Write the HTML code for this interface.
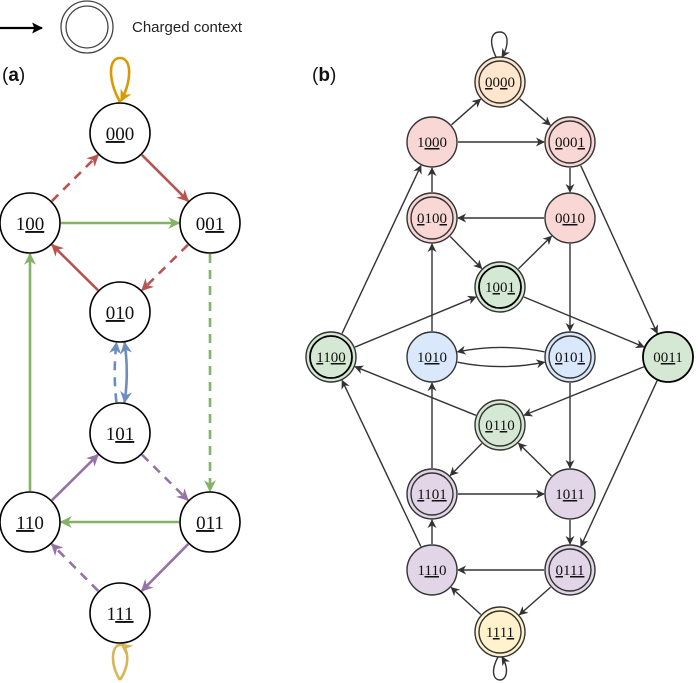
<!DOCTYPE html>
<html><head><meta charset="utf-8">
<style>
html,body{margin:0;padding:0;background:#fff;}
svg{display:block;font-family:"Liberation Serif",serif;}
.s{font-family:"Liberation Sans",sans-serif;}
</style></head>
<body>
<svg id="g" width="700" height="683" viewBox="0 0 700 683" xmlns="http://www.w3.org/2000/svg">
<defs>
<marker id="mk" viewBox="0 0 10 10" refX="9" refY="5" markerWidth="9" markerHeight="9" markerUnits="userSpaceOnUse" orient="auto"><path d="M0,0 L10,5 L0,10 L3,5 z" fill="#333"/></marker>
<marker id="mr" viewBox="0 0 10 10" refX="9" refY="5" markerWidth="12" markerHeight="12" markerUnits="userSpaceOnUse" orient="auto"><path d="M0,0 L10,5 L0,10 L3,5 z" fill="#b85450"/></marker>
<marker id="mg" viewBox="0 0 10 10" refX="9" refY="5" markerWidth="12" markerHeight="12" markerUnits="userSpaceOnUse" orient="auto"><path d="M0,0 L10,5 L0,10 L3,5 z" fill="#82b366"/></marker>
<marker id="mp" viewBox="0 0 10 10" refX="9" refY="5" markerWidth="12" markerHeight="12" markerUnits="userSpaceOnUse" orient="auto"><path d="M0,0 L10,5 L0,10 L3,5 z" fill="#9673a6"/></marker>
<marker id="mb" viewBox="0 0 10 10" refX="9" refY="5" markerWidth="12" markerHeight="12" markerUnits="userSpaceOnUse" orient="auto"><path d="M0,0 L10,5 L0,10 L3,5 z" fill="#6c8ebf"/></marker>
<marker id="mbs" viewBox="0 0 10 10" refX="1" refY="5" markerWidth="12" markerHeight="12" markerUnits="userSpaceOnUse" orient="auto"><path d="M10,0 L0,5 L10,10 L7,5 z" fill="#6c8ebf"/></marker>
<marker id="mo" viewBox="0 0 10 10" refX="9" refY="5" markerWidth="12" markerHeight="12" markerUnits="userSpaceOnUse" orient="auto"><path d="M0,0 L10,5 L0,10 L3,5 z" fill="#d79b00"/></marker>
<marker id="my" viewBox="0 0 10 10" refX="9" refY="5" markerWidth="12" markerHeight="12" markerUnits="userSpaceOnUse" orient="auto"><path d="M0,0 L10,5 L0,10 L3,5 z" fill="#d6b656"/></marker>
<marker id="mblk" viewBox="0 0 10 10" refX="9" refY="5" markerWidth="11" markerHeight="11" markerUnits="userSpaceOnUse" orient="auto"><path d="M0,0 L10,5 L0,10 L2,5 z" fill="#000"/></marker>
</defs>

<!-- legend -->
<line x1="0" y1="28" x2="42" y2="28" stroke="#000" stroke-width="2.2" marker-end="url(#mblk)"/>
<circle cx="87" cy="27" r="26" fill="none" stroke="#444" stroke-width="1.3"/>
<circle cx="87" cy="27" r="21" fill="none" stroke="#444" stroke-width="1.3"/>
<text class="s" x="132" y="32" font-size="15" fill="#222">Charged context</text>
<text class="s" x="2" y="81" font-size="19" fill="#111">(<tspan font-weight="bold">a</tspan>)</text>
<text class="s" x="312" y="81" font-size="19" fill="#111">(<tspan font-weight="bold">b</tspan>)</text>

<g id="edges"></g>

<!-- panel a nodes -->
<g stroke="#000" stroke-width="1.6" fill="#fff">
<circle cx="120" cy="133" r="30"/><circle cx="30" cy="223" r="30"/><circle cx="210" cy="223" r="30"/>
<circle cx="120" cy="312" r="30"/><circle cx="120" cy="433" r="30"/><circle cx="30" cy="522" r="30"/>
<circle cx="210" cy="522" r="30"/><circle cx="120" cy="613" r="30"/>
</g>
<g font-size="19" fill="#111" text-anchor="middle">
<text x="120" y="140"><tspan text-decoration="underline">00</tspan>0</text>
<text x="30" y="230">1<tspan text-decoration="underline">00</tspan></text>
<text x="210" y="230">0<tspan text-decoration="underline">01</tspan></text>
<text x="120" y="319"><tspan text-decoration="underline">01</tspan>0</text>
<text x="120" y="440">1<tspan text-decoration="underline">01</tspan></text>
<text x="30" y="529"><tspan text-decoration="underline">11</tspan>0</text>
<text x="210" y="529"><tspan text-decoration="underline">01</tspan>1</text>
<text x="120" y="620">1<tspan text-decoration="underline">11</tspan></text>
</g>

<!-- panel b nodes -->
<g stroke="#333" stroke-width="1.4">
<circle cx="500" cy="82" r="25" fill="#ffe6cc"/><circle cx="500" cy="82" r="21" fill="none"/>
<circle cx="432" cy="142" r="25" fill="#f8d7d5"/>
<circle cx="570" cy="142" r="25" fill="#f8d7d5"/><circle cx="570" cy="142" r="21" fill="none"/>
<circle cx="432" cy="218" r="25" fill="#f8d7d5"/><circle cx="432" cy="218" r="21" fill="none"/>
<circle cx="570" cy="218" r="25" fill="#f8d7d5"/>
<circle cx="500" cy="287" r="25" fill="#d5e8d4"/><circle cx="500" cy="287" r="21" fill="none" stroke="#000" stroke-width="1.8"/>
<circle cx="331" cy="357" r="25" fill="#d5e8d4"/><circle cx="331" cy="357" r="21" fill="none" stroke="#000" stroke-width="1.8"/>
<circle cx="432" cy="357" r="25" fill="#dae8fc"/>
<circle cx="570" cy="357" r="25" fill="#dae8fc"/><circle cx="570" cy="357" r="21" fill="none"/>
<circle cx="668" cy="357" r="25" fill="#d5e8d4" stroke="#000" stroke-width="1.8"/>
<circle cx="500" cy="425" r="25" fill="#d5e8d4"/><circle cx="500" cy="425" r="21" fill="none"/>
<circle cx="432" cy="494" r="25" fill="#e1d5e7"/><circle cx="432" cy="494" r="21" fill="none"/>
<circle cx="570" cy="494" r="25" fill="#e1d5e7"/>
<circle cx="432" cy="570" r="25" fill="#e1d5e7"/>
<circle cx="570" cy="570" r="25" fill="#e1d5e7"/><circle cx="570" cy="570" r="21" fill="none"/>
<circle cx="500" cy="632" r="25" fill="#fff2cc"/><circle cx="500" cy="632" r="21" fill="none"/>
</g>
<g font-size="15" fill="#111" text-anchor="middle">
<text x="500" y="87"><tspan text-decoration="underline">0</tspan>0<tspan text-decoration="underline">0</tspan>0</text>
<text x="432" y="147">1<tspan text-decoration="underline">00</tspan>0</text>
<text x="570" y="147"><tspan text-decoration="underline">0</tspan>00<tspan text-decoration="underline">1</tspan></text>
<text x="432" y="223"><tspan text-decoration="underline">0</tspan>10<tspan text-decoration="underline">0</tspan></text>
<text x="570" y="223">0<tspan text-decoration="underline">01</tspan>0</text>
<text x="500" y="292">1<tspan text-decoration="underline">0</tspan>0<tspan text-decoration="underline">1</tspan></text>
<text x="331" y="362"><tspan text-decoration="underline">1</tspan>1<tspan text-decoration="underline">00</tspan></text>
<text x="432" y="362">1<tspan text-decoration="underline">01</tspan>0</text>
<text x="570" y="362"><tspan text-decoration="underline">0</tspan>10<tspan text-decoration="underline">1</tspan></text>
<text x="668" y="362">0<tspan text-decoration="underline">01</tspan>1</text>
<text x="500" y="430"><tspan text-decoration="underline">0</tspan>1<tspan text-decoration="underline">1</tspan>0</text>
<text x="432" y="499"><tspan text-decoration="underline">1</tspan>1<tspan text-decoration="underline">01</tspan></text>
<text x="570" y="499">1<tspan text-decoration="underline">01</tspan>1</text>
<text x="432" y="575">1<tspan text-decoration="underline">11</tspan>0</text>
<text x="570" y="575"><tspan text-decoration="underline">0</tspan>1<tspan text-decoration="underline">11</tspan></text>
<text x="500" y="637">1<tspan text-decoration="underline">1</tspan>1<tspan text-decoration="underline">1</tspan></text>
</g>
</svg>
<script>
(function(){
var g=document.getElementById('edges'),NS='http://www.w3.org/2000/svg';
function P(d,st){var p=document.createElementNS(NS,'path');p.setAttribute('d',d);p.setAttribute('fill','none');for(var k in st)p.setAttribute(k,st[k]);g.appendChild(p);}
function E(a,b,r,st,bend){var dx=b[0]-a[0],dy=b[1]-a[1],L=Math.hypot(dx,dy),ux=dx/L,uy=dy/L;
 if(!bend){P('M'+(a[0]+ux*r)+','+(a[1]+uy*r)+' L'+(b[0]-ux*r)+','+(b[1]-uy*r),st);return;}
 var mx=(a[0]+b[0])/2-uy*bend,my=(a[1]+b[1])/2+ux*bend;
 var d1x=mx-a[0],d1y=my-a[1],l1=Math.hypot(d1x,d1y),d2x=b[0]-mx,d2y=b[1]-my,l2=Math.hypot(d2x,d2y);
 var sx=a[0]+d1x/l1*r,sy=a[1]+d1y/l1*r,ex=b[0]-d2x/l2*r,ey=b[1]-d2y/l2*r;
 P('M'+sx+','+sy+' Q'+mx+','+my+' '+ex+','+ey,st);}
// panel a
var A={'000':[120,133],'100':[30,223],'001':[210,223],'010':[120,312],'101':[120,433],'110':[30,522],'011':[210,522],'111':[120,613]};
function sa(c,m,dash){var o={stroke:c,'stroke-width':2.6,'marker-end':'url(#'+m+')'};if(dash)o['stroke-dasharray']='9,7';return o;}
var R='#b85450',G='#82b366',Pu='#9673a6',B='#6c8ebf';
E(A['000'],A['001'],31,sa(R,'mr'));E(A['100'],A['000'],31,sa(R,'mr',1));
E(A['100'],A['001'],31,sa(G,'mg'));E(A['010'],A['100'],31,sa(R,'mr'));
E(A['001'],A['010'],31,sa(R,'mr',1));E(A['001'],A['011'],31,sa(G,'mg',1));
E(A['110'],A['100'],31,sa(G,'mg'));E(A['011'],A['110'],31,sa(G,'mg'));
E(A['110'],A['101'],31,sa(Pu,'mp'));E(A['101'],A['011'],31,sa(Pu,'mp',1));
E(A['011'],A['111'],31,sa(Pu,'mp'));E(A['111'],A['110'],31,sa(Pu,'mp',1));
var o=sa(B,'mb');o['marker-start']='url(#mbs)';E(A['010'],A['101'],31,o,-9);
E(A['101'],A['010'],31,sa(B,'mb',1),-7);
P('M120,102 C108,80 108,58 120,58 C132,58 132,80 121,101',{stroke:'#d79b00','stroke-width':2.6,'marker-end':'url(#mo)'});
P('M120,680 C110,665 111,644 121,645',{stroke:'#d6b656','stroke-width':2.6});
P('M120,680 C130,665 129,650 121,644',{stroke:'#d6b656','stroke-width':2.6,'marker-end':'url(#my)'});
// panel b
var N={'0000':[500,82],'1000':[432,142],'0001':[570,142],'0100':[432,218],'0010':[570,218],'1001':[500,287],'1100':[331,357],'1010':[432,357],'0101':[570,357],'0011':[668,357],'0110':[500,425],'1101':[432,494],'1011':[570,494],'1110':[432,570],'0111':[570,570],'1111':[500,632]};
var sb={stroke:'#333','stroke-width':1.4,'marker-end':'url(#mk)'};
[['1000','0000'],['0000','0001'],['1000','0001'],['0001','0010'],['0001','0011'],['0100','1000'],['0010','0100'],['0100','1001'],['1001','0010'],['1001','0011'],['1100','1000'],['1100','1001'],['1010','0100'],['0010','0101'],['0011','0110'],['0011','0111'],['0110','1100'],['0110','1101'],['1011','0110'],['0101','1011'],['1101','1010'],['1101','1011'],['1011','0111'],['1110','1101'],['1110','1100'],['0111','1110'],['0111','1111'],['1111','1110']].forEach(function(e){E(N[e[0]],N[e[1]],26,sb);});
E(N['1010'],N['0101'],26,sb,14);E(N['0101'],N['1010'],26,sb,14);
P('M496,57 C488,40 492,32 500,32 C508,32 510,44 502,57',sb);
P('M498,657 C490,672 494,680 500,680 C506,680 510,670 502,657',sb);
})();
</script>
</body></html>
